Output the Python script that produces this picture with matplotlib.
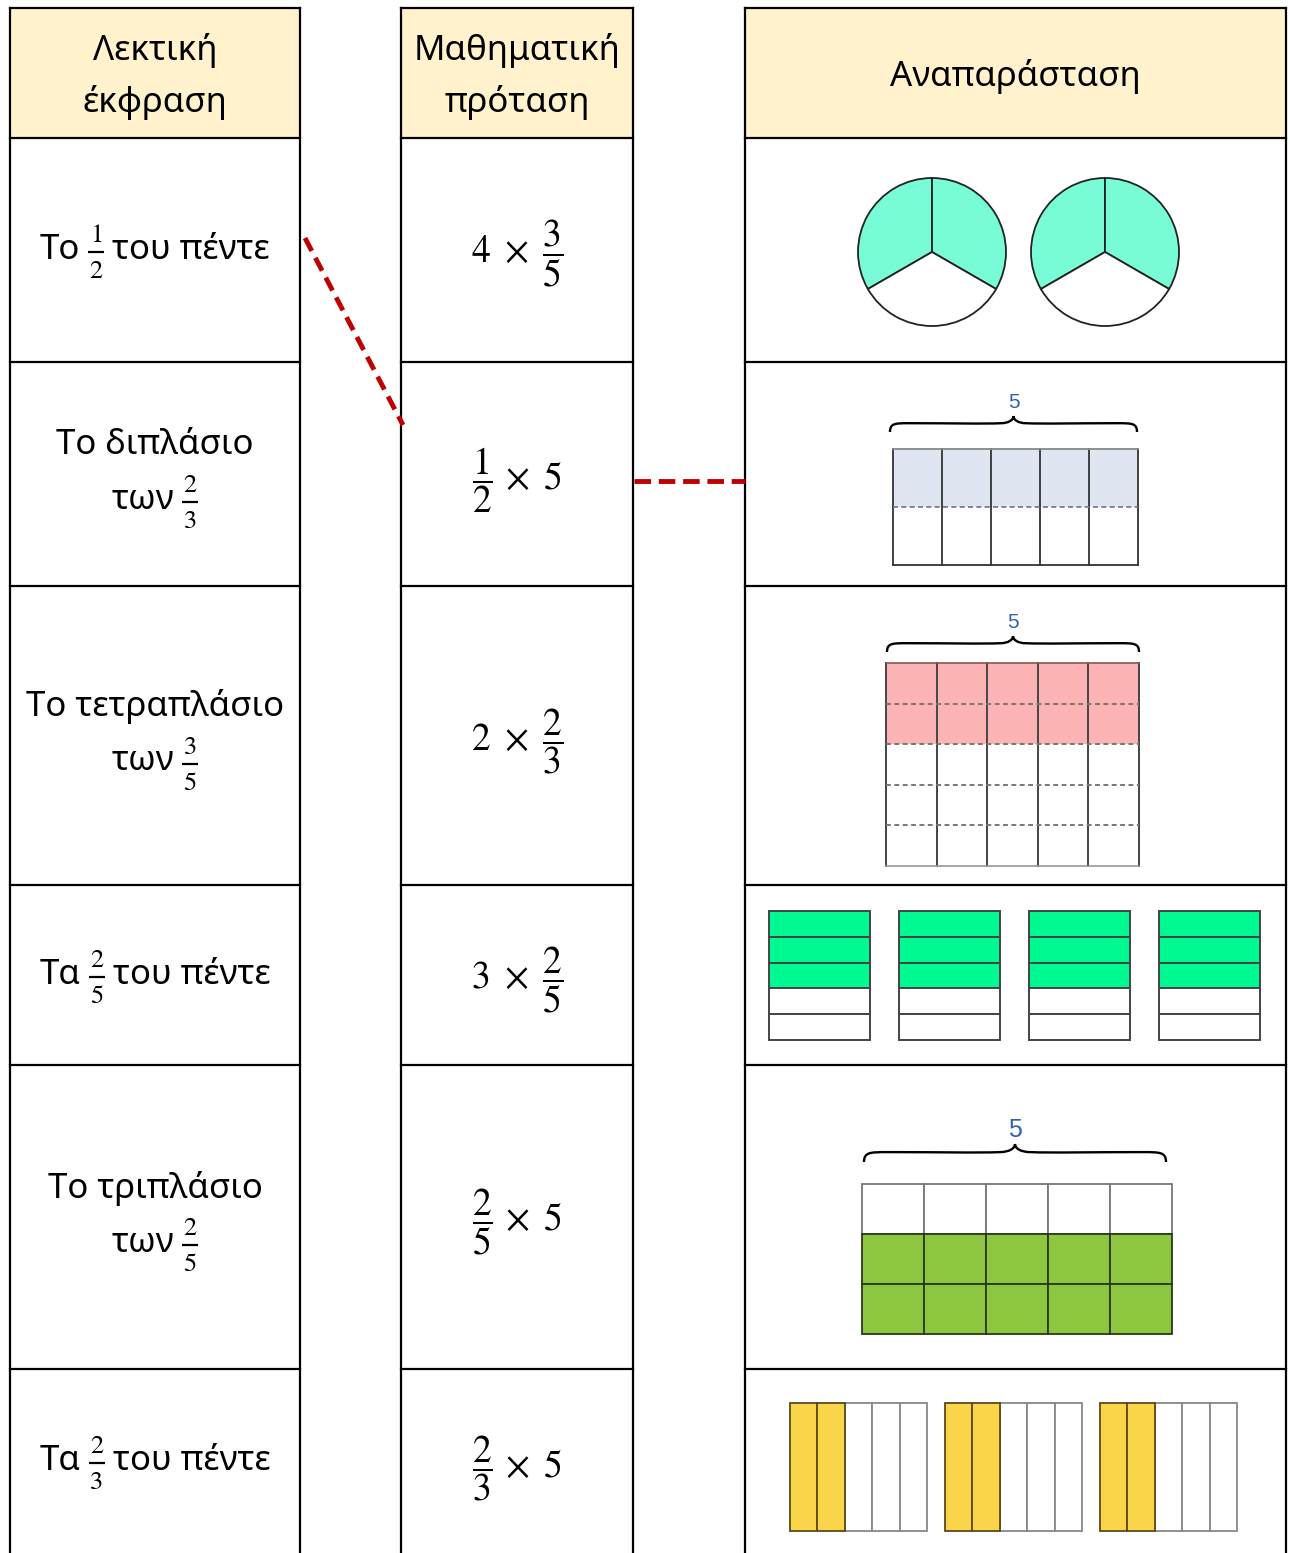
import numpy as np
import matplotlib
matplotlib.use('Agg')
import matplotlib.pyplot as plt
from matplotlib.patches import Rectangle, Wedge, PathPatch
from matplotlib.path import Path

plt.rcParams['font.family'] = ['Noto Sans', 'DejaVu Sans']
plt.rcParams['mathtext.fontset'] = 'stix'

# table content
header_left = ['Λεκτική', 'έκφραση']
header_mid = ['Μαθηματική', 'πρόταση']
header_right = 'Αναπαράσταση'

# each line: (text before, fraction or None, text after)
verbal = [
    [('Το', (1, 2), 'του πέντε')],
    [('Το διπλάσιο', None, ''), ('των', (2, 3), '')],
    [('Το τετραπλάσιο', None, ''), ('των', (3, 5), '')],
    [('Τα', (2, 5), 'του πέντε')],
    [('Το τριπλάσιο', None, ''), ('των', (2, 5), '')],
    [('Τα', (2, 3), 'του πέντε')],
]
math_expr = [
    r'$4\ \times\ \dfrac{3}{5}$',
    r'$\dfrac{1}{2}\,\times\ 5$',
    r'$2\ \times\ \dfrac{2}{3}$',
    r'$3\ \times\ \dfrac{2}{5}$',
    r'$\dfrac{2}{5}\,\times\ 5$',
    r'$\dfrac{2}{3}\,\times\ 5$',
]

# representations
circle_count, circle_parts, circle_shaded = 2, 3, 2
half_cols, half_rows, half_shaded = 5, 2, 1
quad_cols, quad_rows, quad_shaded = 5, 5, 2
bar4_count, bar4_parts, bar4_shaded = 4, 5, 3
trip_cols, trip_rows, trip_shaded = 5, 3, 2
bar6_count, bar6_parts, bar6_shaded = 3, 5, 2
brace_value = 5

# layout (pixels)
W, H = 1290, 1553
row_y = [8, 138, 362, 586, 885, 1065, 1369, 1553]
cols = [(10, 300), (401, 633), (745, 1286)]
header_bg = '#FFF2CC'

fig = plt.figure(figsize=(W / 100, H / 100), dpi=100)
ax = fig.add_axes([0, 0, 1, 1])
ax.set_xlim(0, W)
ax.set_ylim(H, 0)
ax.axis('off')
renderer = fig.canvas.get_renderer()

# table frames
for x0, x1 in cols:
    ax.add_patch(Rectangle((x0, row_y[0]), x1 - x0, row_y[1] - row_y[0],
                           facecolor=header_bg, edgecolor='none'))
    ax.plot([x0, x1], [row_y[0], row_y[0]], color='black', lw=1.6)
    for y in row_y[1:-1]:
        ax.plot([x0, x1], [y, y], color='black', lw=1.6)
    ax.plot([x0, x0], [row_y[0], H], color='black', lw=1.6)
    ax.plot([x1, x1], [row_y[0], H], color='black', lw=1.6)

fs_txt = 25
ax.text(155, 50, header_left[0], ha='center', va='center', fontsize=fs_txt)
ax.text(155, 102, header_left[1], ha='center', va='center', fontsize=fs_txt)
ax.text(517, 50, header_mid[0], ha='center', va='center', fontsize=fs_txt)
ax.text(517, 102, header_mid[1], ha='center', va='center', fontsize=fs_txt)
ax.text(1015, 76, header_right, ha='center', va='center', fontsize=fs_txt)


def line_with_fraction(xc, y, before, frac, after):
    gap = 8
    fw = 16
    t1 = ax.text(0, y, before, ha='left', va='center', fontsize=fs_txt)
    w1 = t1.get_window_extent(renderer).width
    t2, w2 = None, 0
    if after:
        t2 = ax.text(0, y, after, ha='left', va='center', fontsize=fs_txt)
        w2 = t2.get_window_extent(renderer).width
    if frac is None:
        t1.set_x(xc - w1 / 2)
        return
    total = w1 + gap + fw + (gap + w2 if t2 else 0)
    x = xc - total / 2
    t1.set_x(x)
    fx = x + w1 + gap
    yb = y + 2
    ax.plot([fx, fx + fw], [yb, yb], color='black', lw=1.6, solid_capstyle='butt')
    ax.text(fx + fw / 2, yb - 16, str(frac[0]), ha='center', va='center',
            fontsize=19, family='STIXGeneral')
    ax.text(fx + fw / 2, yb + 20, str(frac[1]), ha='center', va='center',
            fontsize=19, family='STIXGeneral')
    if t2:
        t2.set_x(fx + fw + gap)


for i, lines in enumerate(verbal):
    yc = (row_y[i + 1] + row_y[i + 2]) / 2
    if len(lines) == 1:
        line_with_fraction(155, yc, *lines[0])
    else:
        line_with_fraction(155, yc - 29, *lines[0])
        line_with_fraction(155, yc + 26, *lines[1])

math_y = [253, 480, 741, 980, 1222, 1468]
for expr, y in zip(math_expr, math_y):
    ax.text(517, y, expr, ha='center', va='center', fontsize=27)

# dashed connecting lines
ax.plot([305, 403], [238, 425], color='#C00000', lw=3.5, dashes=(3, 1.6))
ax.plot([634, 745], [481, 481], color='#C00000', lw=3.5, dashes=(3.4, 1.6))


def draw_brace(x0, x1, yb, h, label, fs):
    w = x1 - x0
    xc = (x0 + x1) / 2
    ym = yb - 0.55 * h
    yt = yb - h
    left = [(x0, yb), (x0, ym), (x0 + 0.02 * w, ym), (x0 + 0.08 * w, ym),
            (x0 + 0.25 * w, ym), (xc - 0.12 * w, ym + 0.05 * h), (xc - 0.05 * w, ym),
            (xc - 0.02 * w, ym), (xc, ym - 0.2 * h), (xc, yt)]
    right = [(2 * xc - x, y) for x, y in left[::-1]][1:]
    verts = left + right
    codes = [Path.MOVETO] + [Path.CURVE4] * (len(verts) - 1)
    ax.add_patch(PathPatch(Path(verts, codes), facecolor='none',
                           edgecolor='black', lw=1.7))
    ax.text(xc, yt - 14, str(label), ha='center', va='center', fontsize=fs,
            color='#2F62A8', family=['Liberation Sans', 'DejaVu Sans'])


# row 1: circles
circle_cx = [932, 1105]
for k in range(circle_count):
    cx, cy, r = circle_cx[k], 252, 74
    step = 360 / circle_parts
    for p in range(circle_parts):
        t0 = 150 + p * step
        fc = '#78FCD6' if p < circle_shaded else 'white'
        ax.add_patch(Wedge((cx, cy), r, t0, t0 + step, facecolor=fc,
                           edgecolor='#222222', lw=1.3))

# row 2: halves of 5
gx0, gx1, gy0, gy1 = 893, 1138, 449, 565
ch = (gy1 - gy0) / half_rows
cw = (gx1 - gx0) / half_cols
ax.add_patch(Rectangle((gx0, gy0), gx1 - gx0, ch * half_shaded,
                       facecolor='#DFE6F2', edgecolor='none'))
for c in range(half_cols + 1):
    ax.plot([gx0 + c * cw] * 2, [gy0, gy1], color='#333333', lw=1.3)
for r in range(1, half_rows):
    ax.plot([gx0, gx1], [gy0 + r * ch] * 2, color='#667788', lw=1.2, dashes=(3, 2))
ax.plot([gx0, gx1], [gy0, gy0], color='#888888', lw=1.3)
ax.plot([gx0, gx1], [gy1, gy1], color='#333333', lw=1.3)
draw_brace(890, 1137, 432, 16, brace_value, 15)

# row 3: five rows of 5
gx0, gx1, gy0, gy1 = 886, 1139, 663, 866
ch = (gy1 - gy0) / quad_rows
cw = (gx1 - gx0) / quad_cols
ax.add_patch(Rectangle((gx0, gy0), gx1 - gx0, ch * quad_shaded,
                       facecolor='#FCB3B3', edgecolor='none'))
for c in range(quad_cols + 1):
    ax.plot([gx0 + c * cw] * 2, [gy0, gy1], color='#444444', lw=1.4)
for r in range(1, quad_rows):
    ax.plot([gx0, gx1], [gy0 + r * ch] * 2, color='#777777', lw=1.4, dashes=(2.5, 1.8))
ax.plot([gx0, gx1], [gy0, gy0], color='#8a5555', lw=1.2)
ax.plot([gx0, gx1], [gy1, gy1], color='#999999', lw=1.2)
draw_brace(887, 1139, 652, 16, brace_value, 15)

# row 4: four bars split in fifths
bar_x = [769, 899, 1029, 1159]
for k in range(bar4_count):
    bx, by, bw, bh = bar_x[k], 911, 101, 129
    ph = bh / bar4_parts
    for p in range(bar4_parts):
        fc = '#00FA92' if p < bar4_shaded else 'white'
        ax.add_patch(Rectangle((bx, by + p * ph), bw, ph, facecolor=fc,
                               edgecolor='#444444', lw=1.4))

# row 5: three rows of 5
gx0, gx1, gy0, gy1 = 862, 1172, 1184, 1334
ch = (gy1 - gy0) / trip_rows
cw = (gx1 - gx0) / trip_cols
for r in range(trip_rows):
    shaded = r >= trip_rows - trip_shaded
    for c in range(trip_cols):
        ax.add_patch(Rectangle((gx0 + c * cw, gy0 + r * ch), cw, ch,
                               facecolor='#8DC63F' if shaded else 'white',
                               edgecolor='#2a3a1a' if shaded else '#777777',
                               lw=1.3, zorder=3 if shaded else 2))
draw_brace(864, 1166, 1162, 18, brace_value, 18)

# row 6: three bars split in fifths (vertical strips)
bar_x = [790, 945, 1100]
for k in range(bar6_count):
    bx, by, bw, bh = bar_x[k], 1403, 137, 128
    pw = bw / bar6_parts
    for p in range(bar6_parts):
        shaded = p < bar6_shaded
        ax.add_patch(Rectangle((bx + p * pw, by), pw, bh,
                               facecolor='#FAD449' if shaded else 'white',
                               edgecolor='#5a4a1a' if shaded else '#888888',
                               lw=1.3, zorder=3 if shaded else 2))

fig.savefig('out.png', dpi=100)
